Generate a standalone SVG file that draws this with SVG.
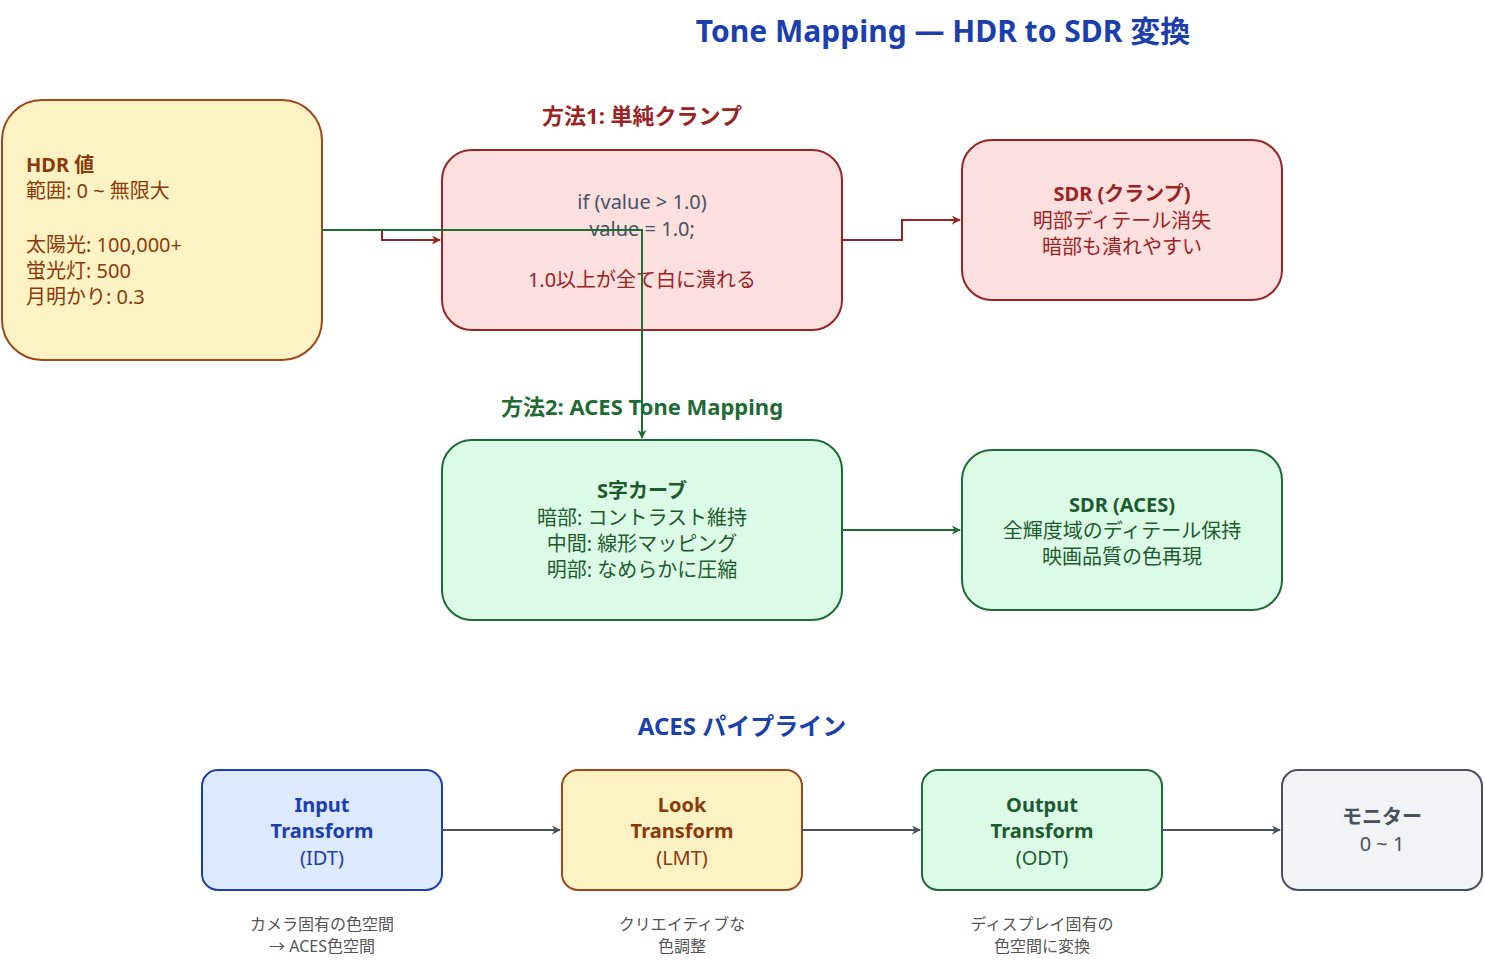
<svg xmlns="http://www.w3.org/2000/svg" width="1485" height="962" viewBox="0 0 1485 962">
<style>
text{font-family:"Noto Sans","Noto Sans CJK JP",sans-serif;font-size:20px;text-anchor:middle}
.b{font-weight:bold}
.s{font-size:16px;fill:#555}
.c{fill:none;stroke-width:2}
</style>
<defs>
<marker id="ar" viewBox="0 0 10 10" refX="9" refY="5" markerWidth="9" markerHeight="9" orient="auto" markerUnits="userSpaceOnUse"><path d="M0,0L10,5L0,10L3,5z" fill="#9b2323"/></marker>
<marker id="ag" viewBox="0 0 10 10" refX="9" refY="5" markerWidth="9" markerHeight="9" orient="auto" markerUnits="userSpaceOnUse"><path d="M0,0L10,5L0,10L3,5z" fill="#1e6b35"/></marker>
<marker id="ak" viewBox="0 0 10 10" refX="9" refY="5" markerWidth="9" markerHeight="9" orient="auto" markerUnits="userSpaceOnUse"><path d="M0,0L10,5L0,10L3,5z" fill="#4a5060"/></marker>
</defs>
<rect width="1485" height="962" fill="#fff"/>
<text x="943" y="42" class="b" style="font-size:30px;fill:#1c3fae">Tone Mapping — HDR to SDR 変換</text>
<text x="642" y="124" class="b" style="font-size:22px;fill:#9b2323">方法1: 単純クランプ</text>
<text x="642" y="415" class="b" style="font-size:22px;fill:#1e6b35">方法2: ACES Tone Mapping</text>
<text x="742" y="735" class="b" style="font-size:24px;fill:#1c3fae">ACES パイプライン</text>
<g id="hdr"><rect x="2" y="100" width="320" height="260" rx="40" fill="#fdf2c4" stroke="#9b4a1a" stroke-width="2"/>
<g style="text-anchor:start;fill:#8a3a0a"><text x="26" y="172" class="b" style="text-anchor:start">HDR 値</text><text x="26" y="198" style="text-anchor:start">範囲: 0 ~ 無限大</text><text x="26" y="252" style="text-anchor:start">太陽光: 100,000+</text><text x="26" y="278" style="text-anchor:start">蛍光灯: 500</text><text x="26" y="304" style="text-anchor:start">月明かり: 0.3</text></g></g>
<g id="clamp"><rect x="442" y="150" width="400" height="180" rx="30" fill="#fce0e0" stroke="#9b2323" stroke-width="2"/>
<text x="642" y="209" fill="#4a5060">if (value &gt; 1.0)</text><text x="642" y="236" fill="#4a5060">value = 1.0;</text><text x="642" y="287" fill="#9b2323">1.0以上が全て白に潰れる</text></g>
<g id="sdrclamp"><rect x="962" y="140" width="320" height="160" rx="30" fill="#fce0e0" stroke="#9b2323" stroke-width="2"/>
<text x="1122" y="201" class="b" fill="#9b2323">SDR (クランプ)</text><text x="1122" y="228" fill="#9b2323">明部ディテール消失</text><text x="1122" y="254" fill="#9b2323">暗部も潰れやすい</text></g>
<g id="aces"><rect x="442" y="440" width="400" height="180" rx="30" fill="#dcfbe6" stroke="#1e6b35" stroke-width="2"/>
<text x="642" y="498" class="b" fill="#1e5a30">S字カーブ</text><text x="642" y="525" fill="#1e5a30">暗部: コントラスト維持</text><text x="642" y="551" fill="#1e5a30">中間: 線形マッピング</text><text x="642" y="577" fill="#1e5a30">明部: なめらかに圧縮</text></g>
<g id="sdraces"><rect x="962" y="450" width="320" height="160" rx="30" fill="#dcfbe6" stroke="#1e6b35" stroke-width="2"/>
<text x="1122" y="512" class="b" fill="#1e5a30">SDR (ACES)</text><text x="1122" y="538" fill="#1e5a30">全輝度域のディテール保持</text><text x="1122" y="564" fill="#1e5a30">映画品質の色再現</text></g>
<g id="idt"><rect x="202" y="770" width="240" height="120" rx="16" fill="#dde9fc" stroke="#1c3fae" stroke-width="2"/>
<text x="322" y="812" class="b" fill="#1c3fae">Input</text><text x="322" y="838" class="b" fill="#1c3fae">Transform</text><text x="322" y="865" fill="#1c3fae">(IDT)</text></g>
<g id="lmt"><rect x="562" y="770" width="240" height="120" rx="16" fill="#fdf2c4" stroke="#9b4a1a" stroke-width="2"/>
<text x="682" y="812" class="b" fill="#8a3a0a">Look</text><text x="682" y="838" class="b" fill="#8a3a0a">Transform</text><text x="682" y="865" fill="#8a3a0a">(LMT)</text></g>
<g id="odt"><rect x="922" y="770" width="240" height="120" rx="16" fill="#dcfbe6" stroke="#1e6b35" stroke-width="2"/>
<text x="1042" y="812" class="b" fill="#1e5a30">Output</text><text x="1042" y="838" class="b" fill="#1e5a30">Transform</text><text x="1042" y="865" fill="#1e5a30">(ODT)</text></g>
<g id="monitor"><rect x="1282" y="770" width="200" height="120" rx="16" fill="#f2f3f5" stroke="#4a5060" stroke-width="2"/>
<text x="1382" y="824" class="b" fill="#4a5060">モニター</text><text x="1382" y="851" fill="#4a5060">0 ~ 1</text></g>
<g id="notes"><text x="322" y="930" class="s">カメラ固有の色空間</text><text x="322" y="952" class="s">→ ACES色空間</text>
<text x="682" y="930" class="s">クリエイティブな</text><text x="682" y="952" class="s">色調整</text>
<text x="1042" y="930" class="s">ディスプレイ固有の</text><text x="1042" y="952" class="s">色空間に変換</text></g>
<g id="connectors">
<path class="c" stroke="#9b2323" d="M322,230H382V240H440" marker-end="url(#ar)"/>
<path class="c" stroke="#1e6b35" d="M322,230H642V438" marker-end="url(#ag)"/>
<path class="c" stroke="#9b2323" d="M842,240H902V220H960" marker-end="url(#ar)"/>
<path class="c" stroke="#1e6b35" d="M842,530H960" marker-end="url(#ag)"/>
<path class="c" stroke="#4a5060" d="M442,830H560" marker-end="url(#ak)"/>
<path class="c" stroke="#4a5060" d="M802,830H920" marker-end="url(#ak)"/>
<path class="c" stroke="#4a5060" d="M1162,830H1280" marker-end="url(#ak)"/>
</g>
</svg>
